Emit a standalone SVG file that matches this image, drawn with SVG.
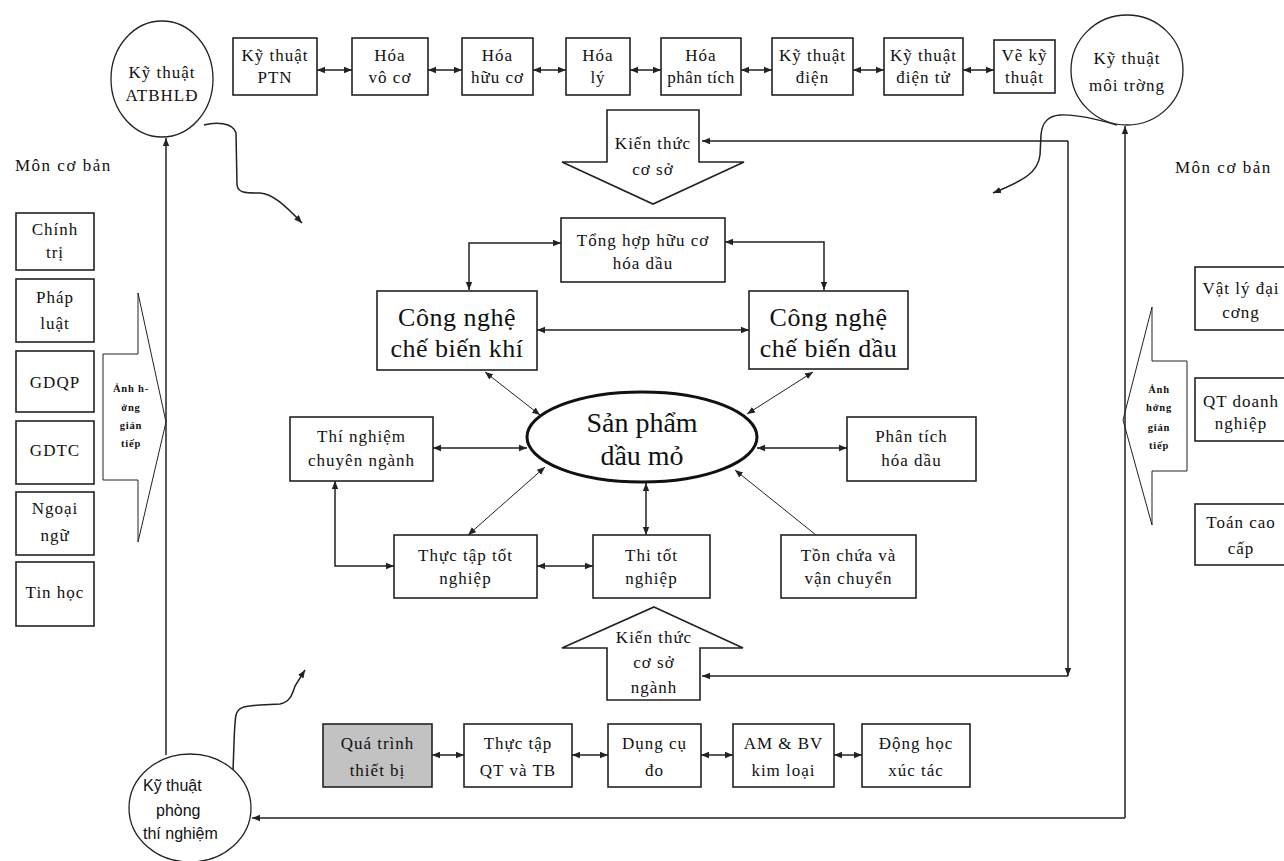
<svg xmlns="http://www.w3.org/2000/svg" width="1284" height="861" viewBox="0 0 1284 861">
<style>
text{font-family:"Liberation Serif","Times New Roman",serif;fill:#111;text-anchor:middle}
.t{font-size:17px;letter-spacing:1px}
.s{font-size:10.5px;letter-spacing:0.8px;font-weight:bold}
.big{font-size:26px;letter-spacing:0.5px}
.huge{font-size:28px}
.lbl{font-size:17px;letter-spacing:1.5px;text-anchor:start}
.sans{font-family:"Liberation Sans",Arial,sans-serif;font-size:16px;text-anchor:start}
.box{fill:#fff;stroke:#222;stroke-width:1.6}
.grey{fill:#c2c2c2;stroke:#222;stroke-width:1.6}
.circ{fill:#fff;stroke:#222;stroke-width:1.3}
.ln{fill:none;stroke:#222;stroke-width:1.5}
.thin{fill:none;stroke:#222;stroke-width:1}
</style>
<defs>
<marker id="ah" viewBox="0 0 10 10" refX="10" refY="5" markerWidth="8" markerHeight="8" markerUnits="userSpaceOnUse" orient="auto-start-reverse"><path d="M0,1 L10,5 L0,9 z" fill="#222"/></marker>
</defs>
<rect width="1284" height="861" fill="#fff"/>

<text class="lbl" x="15" y="171">Môn cơ bản</text>
<text class="lbl" x="1175" y="173">Môn cơ bản</text>

<g id="connectors">
  <!-- top row -->
  <path class="ln" d="M317,70 H352" marker-start="url(#ah)" marker-end="url(#ah)"/>
  <path class="ln" d="M428,70 H462" marker-start="url(#ah)" marker-end="url(#ah)"/>
  <path class="ln" d="M533,70 H566" marker-start="url(#ah)" marker-end="url(#ah)"/>
  <path class="ln" d="M630,70 H661" marker-start="url(#ah)" marker-end="url(#ah)"/>
  <path class="ln" d="M741,70 H772" marker-start="url(#ah)" marker-end="url(#ah)"/>
  <path class="ln" d="M853,70 H884" marker-start="url(#ah)" marker-end="url(#ah)"/>
  <path class="ln" d="M963,70 H994" marker-start="url(#ah)" marker-end="url(#ah)"/>
  <!-- bottom row -->
  <path class="ln" d="M432,755 H464" marker-start="url(#ah)" marker-end="url(#ah)"/>
  <path class="ln" d="M572,755 H608" marker-start="url(#ah)" marker-end="url(#ah)"/>
  <path class="ln" d="M701,755 H733" marker-start="url(#ah)" marker-end="url(#ah)"/>
  <path class="ln" d="M834,755 H862" marker-start="url(#ah)" marker-end="url(#ah)"/>
  <!-- frame lines -->
  <path class="ln" d="M166,755 V138" marker-end="url(#ah)"/>
  <path class="ln" d="M1125,818 V126" marker-end="url(#ah)"/>
  <path class="ln" d="M1125,818 H252" marker-end="url(#ah)"/>
  <path class="ln" d="M1068,141 H702" marker-end="url(#ah)"/>
  <path class="ln" d="M1068,141 V676" marker-end="url(#ah)"/>
  <path class="ln" d="M1068,676 H702" marker-end="url(#ah)"/>
  <!-- center -->
  <path class="ln" d="M561,243 H469 V290" marker-start="url(#ah)" marker-end="url(#ah)"/>
  <path class="ln" d="M725,242 H824 V290" marker-start="url(#ah)" marker-end="url(#ah)"/>
  <path class="ln" d="M537,330 H749" marker-start="url(#ah)" marker-end="url(#ah)"/>
  <path class="thin" d="M485,372 L540,415" marker-start="url(#ah)" marker-end="url(#ah)"/>
  <path class="thin" d="M813,372 L747,414" marker-start="url(#ah)" marker-end="url(#ah)"/>
  <path class="ln" d="M433,448 H527" marker-start="url(#ah)" marker-end="url(#ah)"/>
  <path class="ln" d="M757,448 H847" marker-start="url(#ah)" marker-end="url(#ah)"/>
  <path class="ln" d="M537,566 H593" marker-start="url(#ah)" marker-end="url(#ah)"/>
  <path class="thin" d="M468,535 L545,467" marker-start="url(#ah)" marker-end="url(#ah)"/>
  <path class="ln" d="M646,535 V483" marker-start="url(#ah)" marker-end="url(#ah)"/>
  <path class="ln" d="M335,481 V566 H394" marker-start="url(#ah)" marker-end="url(#ah)"/>
  <path class="thin" d="M816,535 L735,470" marker-end="url(#ah)"/>
  <!-- wavy -->
  <path class="ln" d="M204,125 C215,122 233,122 236,133 L237,185 C238,193 245,193 260,193 C272,194 283,203 302,223" marker-end="url(#ah)"/>
  <path class="ln" d="M1117,125 C1100,120 1075,114 1060,115 C1048,116 1042,122 1041,135 L1040,155 C1038,172 1025,180 993,193" marker-end="url(#ah)"/>
  <path class="ln" d="M233,770 C234,750 234,725 236,715 C238,707 244,706 260,705 L280,704 C290,702 292,695 295,686 L305,670" marker-end="url(#ah)"/>
</g>

<g id="atbhld"><ellipse class="circ" cx="162" cy="79" rx="51" ry="58"/><text class="t" x="162" y="78">Kỹ thuật</text><text class="t" x="162" y="101">ATBHLĐ</text></g>
<g id="ptn"><rect class="box" x="233" y="38" width="84" height="57"/><text class="t" x="275" y="61">Kỹ thuật</text><text class="t" x="275" y="83">PTN</text></g>
<g id="voco"><rect class="box" x="352" y="38" width="76" height="57"/><text class="t" x="390" y="61">Hóa</text><text class="t" x="390" y="83">vô cơ</text></g>
<g id="huuco"><rect class="box" x="462" y="38" width="71" height="57"/><text class="t" x="497.5" y="61">Hóa</text><text class="t" x="497.5" y="83">hữu cơ</text></g>
<g id="haly"><rect class="box" x="566" y="38" width="64" height="57"/><text class="t" x="598" y="61">Hóa</text><text class="t" x="598" y="83">lý</text></g>
<g id="phantich"><rect class="box" x="661" y="38" width="80" height="57"/><text class="t" x="701" y="61">Hóa</text><text class="t" x="701" y="83" style="letter-spacing:0.5px">phân tích</text></g>
<g id="dien"><rect class="box" x="772" y="38" width="81" height="57"/><text class="t" x="812.5" y="61">Kỹ thuật</text><text class="t" x="812.5" y="83">điện</text></g>
<g id="dientu"><rect class="box" x="884" y="38" width="79" height="57"/><text class="t" x="923.5" y="61">Kỹ thuật</text><text class="t" x="923.5" y="83">điện tử</text></g>
<g id="veky"><rect class="box" x="994" y="40" width="61" height="53"/><text class="t" x="1024.5" y="61">Vẽ kỹ</text><text class="t" x="1024.5" y="83">thuật</text></g>
<g id="moitruong"><ellipse class="circ" cx="1127" cy="70" rx="56" ry="55"/><text class="t" x="1127" y="64">Kỹ thuật</text><text class="t" x="1127" y="91">môi trờng</text></g>

<g id="kienthuccoso"><polygon class="box" points="607,110 699,110 699,162 744,162 653,204 562,162 607,162"/><text class="t" x="653" y="149">Kiến thức</text><text class="t" x="653" y="175">cơ sở</text></g>
<g id="tonghop"><rect class="box" x="561" y="218" width="164" height="64"/><text class="t" x="643" y="246">Tổng hợp hữu cơ</text><text class="t" x="643" y="269">hóa dầu</text></g>
<g id="cnkhi"><rect class="box" x="377" y="291" width="160" height="79"/><text class="big" x="457" y="326">Công nghệ</text><text class="big" x="457" y="357">chế biến khí</text></g>
<g id="cndau"><rect class="box" x="749" y="291" width="159" height="78"/><text class="big" x="828.5" y="326">Công nghệ</text><text class="big" x="828.5" y="357">chế biến dầu</text></g>
<g id="sanpham"><ellipse cx="642" cy="437" rx="115" ry="45" fill="#fff" stroke="#111" stroke-width="3"/><text class="huge" x="642" y="432">Sản phẩm</text><text class="huge" x="642" y="465">dầu mỏ</text></g>
<g id="thinghiem"><rect class="box" x="290" y="417" width="143" height="64"/><text class="t" x="361.5" y="442">Thí nghiệm</text><text class="t" x="361.5" y="466">chuyên ngành</text></g>
<g id="phantichhd"><rect class="box" x="847" y="417" width="129" height="64"/><text class="t" x="911.5" y="442">Phân tích</text><text class="t" x="911.5" y="466">hóa dầu</text></g>
<g id="thuctaptn"><rect class="box" x="394" y="535" width="143" height="63"/><text class="t" x="465.5" y="561">Thực tập tốt</text><text class="t" x="465.5" y="584">nghiệp</text></g>
<g id="thitn"><rect class="box" x="593" y="535" width="117" height="63"/><text class="t" x="651.5" y="561">Thi tốt</text><text class="t" x="651.5" y="584">nghiệp</text></g>
<g id="tonchua"><rect class="box" x="781" y="535" width="135" height="63"/><text class="t" x="848.5" y="561">Tồn chứa và</text><text class="t" x="848.5" y="584">vận chuyển</text></g>
<g id="kienthucnganh"><polygon class="box" points="654,607 743,648 700,648 700,700 607,700 607,648 562,648"/><text class="t" x="654" y="643">Kiến thức</text><text class="t" x="654" y="668">cơ sở</text><text class="t" x="654" y="693">ngành</text></g>

<g id="quatrinh"><rect class="grey" x="323" y="724" width="109" height="63"/><text class="t" x="377.5" y="749">Quá trình</text><text class="t" x="377.5" y="776">thiết bị</text></g>
<g id="thuctapqt"><rect class="box" x="464" y="724" width="108" height="63"/><text class="t" x="518" y="749">Thực tập</text><text class="t" x="518" y="776">QT và TB</text></g>
<g id="dungcu"><rect class="box" x="608" y="724" width="93" height="63"/><text class="t" x="654.5" y="749">Dụng cụ</text><text class="t" x="654.5" y="776">đo</text></g>
<g id="ambv"><rect class="box" x="733" y="724" width="101" height="63"/><text class="t" x="783.5" y="749">AM &amp; BV</text><text class="t" x="783.5" y="776">kim loại</text></g>
<g id="donghoc"><rect class="box" x="862" y="724" width="108" height="63"/><text class="t" x="916" y="749">Động học</text><text class="t" x="916" y="776">xúc tác</text></g>
<g id="phongtn"><ellipse class="circ" cx="190" cy="808" rx="61" ry="54"/><text class="sans" x="143" y="791">Kỹ thuật</text><text class="sans" x="156" y="816">phòng</text><text class="sans" x="143" y="839">thí nghiệm</text></g>

<g id="chinhtri"><rect class="box" x="16" y="213" width="78" height="57"/><text class="t" x="55" y="235">Chính</text><text class="t" x="55" y="258">trị</text></g>
<g id="phapluat"><rect class="box" x="16" y="279" width="78" height="63"/><text class="t" x="55" y="303">Pháp</text><text class="t" x="55" y="329">luật</text></g>
<g id="gdqp"><rect class="box" x="16" y="351" width="78" height="61"/><text class="t" x="55" y="388">GDQP</text></g>
<g id="gdtc"><rect class="box" x="16" y="421" width="78" height="63"/><text class="t" x="55" y="456">GDTC</text></g>
<g id="ngoaingu"><rect class="box" x="16" y="492" width="78" height="63"/><text class="t" x="55" y="514">Ngoại</text><text class="t" x="55" y="541">ngữ</text></g>
<g id="tinhoc"><rect class="box" x="16" y="562" width="78" height="64"/><text class="t" x="55" y="598">Tin học</text></g>
<g id="anhhuongtrai"><polygon class="thin" fill="#fff" points="103,354 138,354 138,293 166,422 138,542 138,480 103,480"/><text class="s" x="131" y="392">Ảnh h-</text><text class="s" x="131" y="411">ởng</text><text class="s" x="131" y="429">gián</text><text class="s" x="131" y="447">tiếp</text></g>

<g id="anhhuongphai"><polygon class="thin" fill="#fff" points="1123,420 1152,307 1152,361 1187,361 1187,471 1152,471 1152,525"/><text class="s" x="1159" y="393">Ảnh</text><text class="s" x="1159" y="411">hởng</text><text class="s" x="1159" y="431">gián</text><text class="s" x="1159" y="449">tiếp</text></g>
<g id="vatly"><rect class="box" x="1195" y="267" width="100" height="63"/><text class="t" x="1241" y="294">Vật lý đại</text><text class="t" x="1241" y="318">cơng</text></g>
<g id="qtdn"><rect class="box" x="1195" y="378" width="100" height="63"/><text class="t" x="1241" y="407">QT doanh</text><text class="t" x="1241" y="429">nghiệp</text></g>
<g id="toancc"><rect class="box" x="1195" y="504" width="100" height="61"/><text class="t" x="1241" y="528">Toán cao</text><text class="t" x="1241" y="554">cấp</text></g>
</svg>
